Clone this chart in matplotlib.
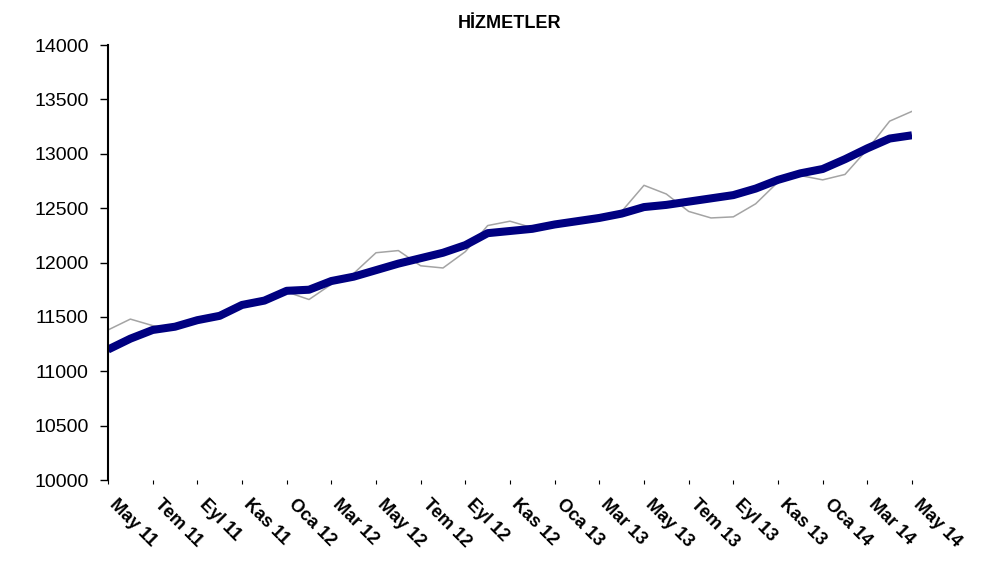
import numpy as np
import matplotlib
matplotlib.use('Agg')
import matplotlib.pyplot as plt
from matplotlib.transforms import ScaledTranslation

plt.rcParams['font.family'] = ['Liberation Sans', 'DejaVu Sans']

# monthly, May 11 .. May 14
months = ['May', 'Haz', 'Tem', 'Ağu', 'Eyl', 'Eki', 'Kas', 'Ara', 'Oca', 'Şub', 'Mar', 'Nis']
labels = []
for i in range(37):
    yr = 11 + (4 + i) // 12
    labels.append(months[i % 12] + ' ' + str(yr))

# thin grey series (actual)
actual = [11380, 11480, 11420, 11390, 11450, 11490, 11600, 11640, 11730, 11660,
          11800, 11900, 12090, 12110, 11970, 11950, 12100, 12340, 12380, 12320,
          12330, 12360, 12400, 12470, 12710, 12630, 12470, 12410, 12420, 12540,
          12740, 12800, 12760, 12810, 13040, 13300, 13390]

# thick navy series (trend)
trend = [11200, 11300, 11380, 11410, 11470, 11510, 11610, 11650, 11740, 11750,
         11830, 11870, 11930, 11990, 12040, 12090, 12160, 12270, 12290, 12310,
         12350, 12380, 12410, 12450, 12510, 12530, 12560, 12590, 12620, 12680,
         12760, 12820, 12860, 12950, 13050, 13140, 13170]

x = np.arange(len(trend))

fig = plt.figure(figsize=(9.82, 5.77), dpi=100)
ax = fig.add_axes([0.11, 0.168, 0.8187, 0.754])

ax.plot(x, actual, color='#a4a4a4', lw=1.1)
ax.plot(x, trend, color='#000080', lw=5.8, solid_capstyle='butt')

ax.set_xlim(0, 36)
ax.set_ylim(10000, 14000)
ax.set_yticks(np.arange(10000, 14001, 500))
ax.tick_params(axis='y', direction='out', length=6, width=1, labelsize=14, pad=8)

ax.set_xticks(x[::2])
ax.set_xticklabels(labels[::2], rotation=-45, ha='left', va='center',
                   rotation_mode='anchor', fontsize=13, fontweight='bold')
ax.tick_params(axis='x', direction='out', length=3, width=0.8, pad=13)
shift = ScaledTranslation(3 / 72, 0, fig.dpi_scale_trans)
for lbl in ax.get_xticklabels():
    lbl.set_transform(lbl.get_transform() + shift)

for s in ['top', 'right', 'bottom']:
    ax.spines[s].set_visible(False)
ax.spines['left'].set_linewidth(1.5)

ax.set_title('HİZMETLER', fontsize=13, fontweight='bold', pad=12)

fig.savefig('out.png', dpi=100)
